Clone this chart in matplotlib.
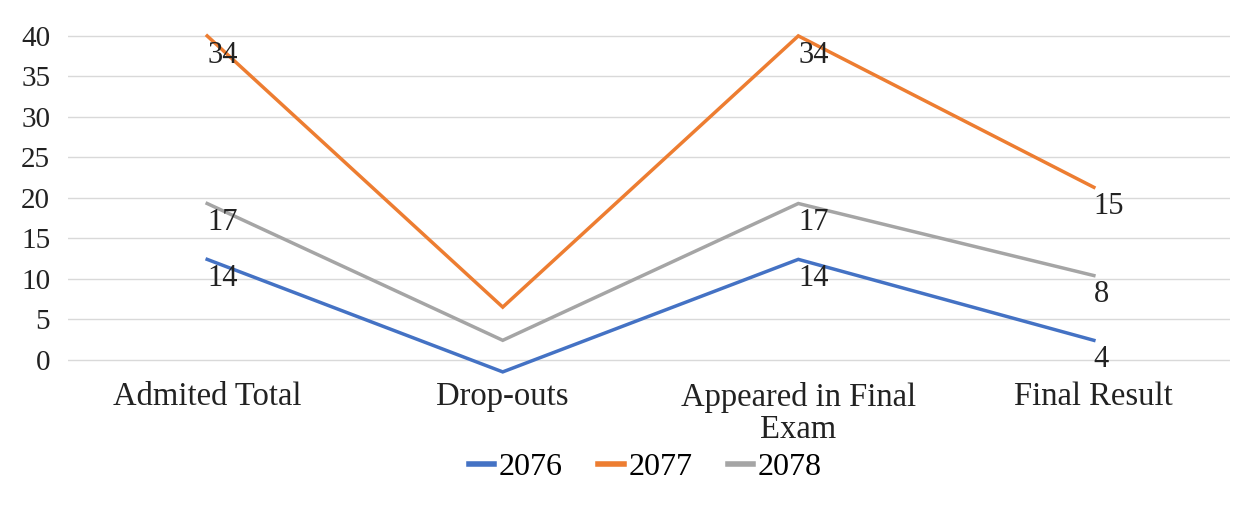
import matplotlib.pyplot as plt
import numpy as np

categories = ["Admited Total", "Drop-outs", "Appeared in Final\nExam", "Final Result"]
years = ["2076", "2077", "2078"]
# plotted values (as drawn in the original chart)
vals_2076 = [12.4, -1.5, 12.4, 2.4]
vals_2077 = [40, 6.5, 40, 21.3]
vals_2078 = [19.3, 2.4, 19.3, 10.4]
# data labels shown in the chart (none on drop-outs)
labels_2076 = ["14", "", "14", "4"]
labels_2077 = ["34", "", "34", "15"]
labels_2078 = ["17", "", "17", "8"]
colors = ["#4472C4", "#ED7D31", "#A5A5A5"]

plt.rcParams['font.family'] = ['Liberation Serif', 'DejaVu Serif']

fig = plt.figure(figsize=(12.41, 5.31), dpi=100)
ax = fig.add_axes([0.055, 0.292, 0.936, 0.648])

x = np.arange(len(categories))
series = [vals_2076, vals_2077, vals_2078]
lab = [labels_2076, labels_2077, labels_2078]
for name, v, l, c in zip(years, series, lab, colors):
    ax.plot(x, v, color=c, lw=2.5, label=name, solid_joinstyle='miter')
    for xi, yi, t in zip(x, v, l):
        if t:
            ax.annotate(t, (xi, yi), xytext=(0, -14), textcoords='offset points',
                        ha='left', va='center', fontsize=22, color='#222222')

ax.set_xlim(-0.47, 3.46)
ax.set_ylim(-2, 40.5)
ax.set_yticks(range(0, 41, 5))
ax.set_xticks(x)
ax.set_xticklabels(categories, linespacing=1.1)
ax.tick_params(axis='both', length=0, colors='#222222')
ax.tick_params(axis='y', pad=13, labelsize=21)
ax.tick_params(axis='x', pad=4, labelsize=23.5)
ax.grid(axis='y', color='#d9d9d9', lw=1)
ax.set_axisbelow(True)
for s in ax.spines.values():
    s.set_visible(False)

leg = fig.legend(loc='center', bbox_to_anchor=(0.52, 0.12), ncol=3, frameon=False,
                 fontsize=23, handlelength=0.8, handletextpad=0.15, columnspacing=1.1)
for h in leg.get_lines():
    h.set_linewidth(4)

fig.savefig("out.png", dpi=100, facecolor='white')
